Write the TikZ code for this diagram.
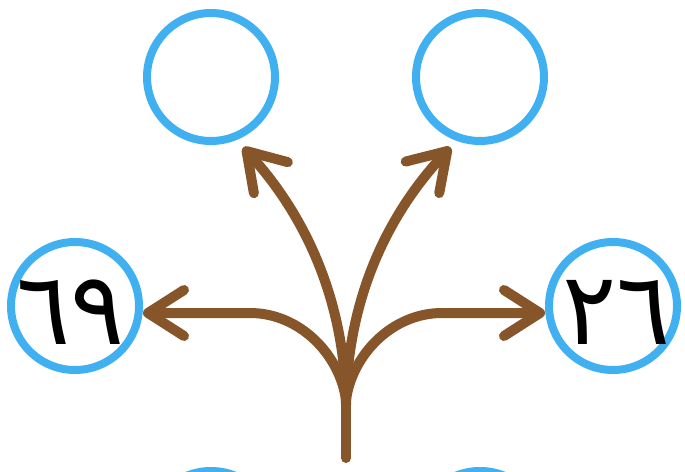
\documentclass[tikz,border=0pt]{standalone}
\usepackage{fontspec}
\newfontfamily\arabicfont[Script=Arabic]{DejaVu Sans}
\usetikzlibrary{arrows.meta}
\definecolor{ringblue}{RGB}{64,176,240}
\definecolor{branchbrown}{RGB}{134,85,42}
\begin{document}
\begin{tikzpicture}[x=1pt,y=-1pt,
  ring/.style={circle, draw=ringblue, line width=8pt, minimum size=128pt, inner sep=0pt},
  branch/.style={draw=branchbrown, line width=10pt, line cap=round},
  arrowbranch/.style={branch, -{Straight Barb[length=36pt,width=46pt,round]}},
  digits/.style={font=\arabicfont\fontsize{101}{101}\selectfont, text=black, inner sep=0pt}]
\clip (0,0) rectangle (685,471);
\fill[white] (0,0) rectangle (685,471);
% rings
\node[ring] (tl) at (211,77) {};
\node[ring] (tr) at (480,77) {};
\node[ring] (l) at (75,306) {};
\node[ring] (r) at (613,306) {};
\node[ring] (bl) at (211,535) {};
\node[ring] (br) at (480,535) {};
% labels
\node[digits] (ltext) at (71,312) {٦٩};
\node[digits] (rtext) at (617,312) {٢٦};
% trunk and branches
\coordinate (root) at (346,458);
\coordinate (fork) at (346,400);
\coordinate (forkup) at (346,405);
\draw[branch] (root) -- (fork);
\draw[arrowbranch] (fork) .. controls (340,355) and (300,313) .. (250,313) -- (l.east |- 0,313);
\draw[arrowbranch] (fork) .. controls (352,355) and (392,313) .. (442,313) -- (r.west |- 0,313);
\draw[arrowbranch, shorten >=10pt] (forkup) .. controls (345,300) and (305,215) .. (tl.-68);
\draw[arrowbranch, shorten >=9pt] (forkup) .. controls (347,300) and (387,215) .. (tr.-110);
\end{tikzpicture}
\end{document}
